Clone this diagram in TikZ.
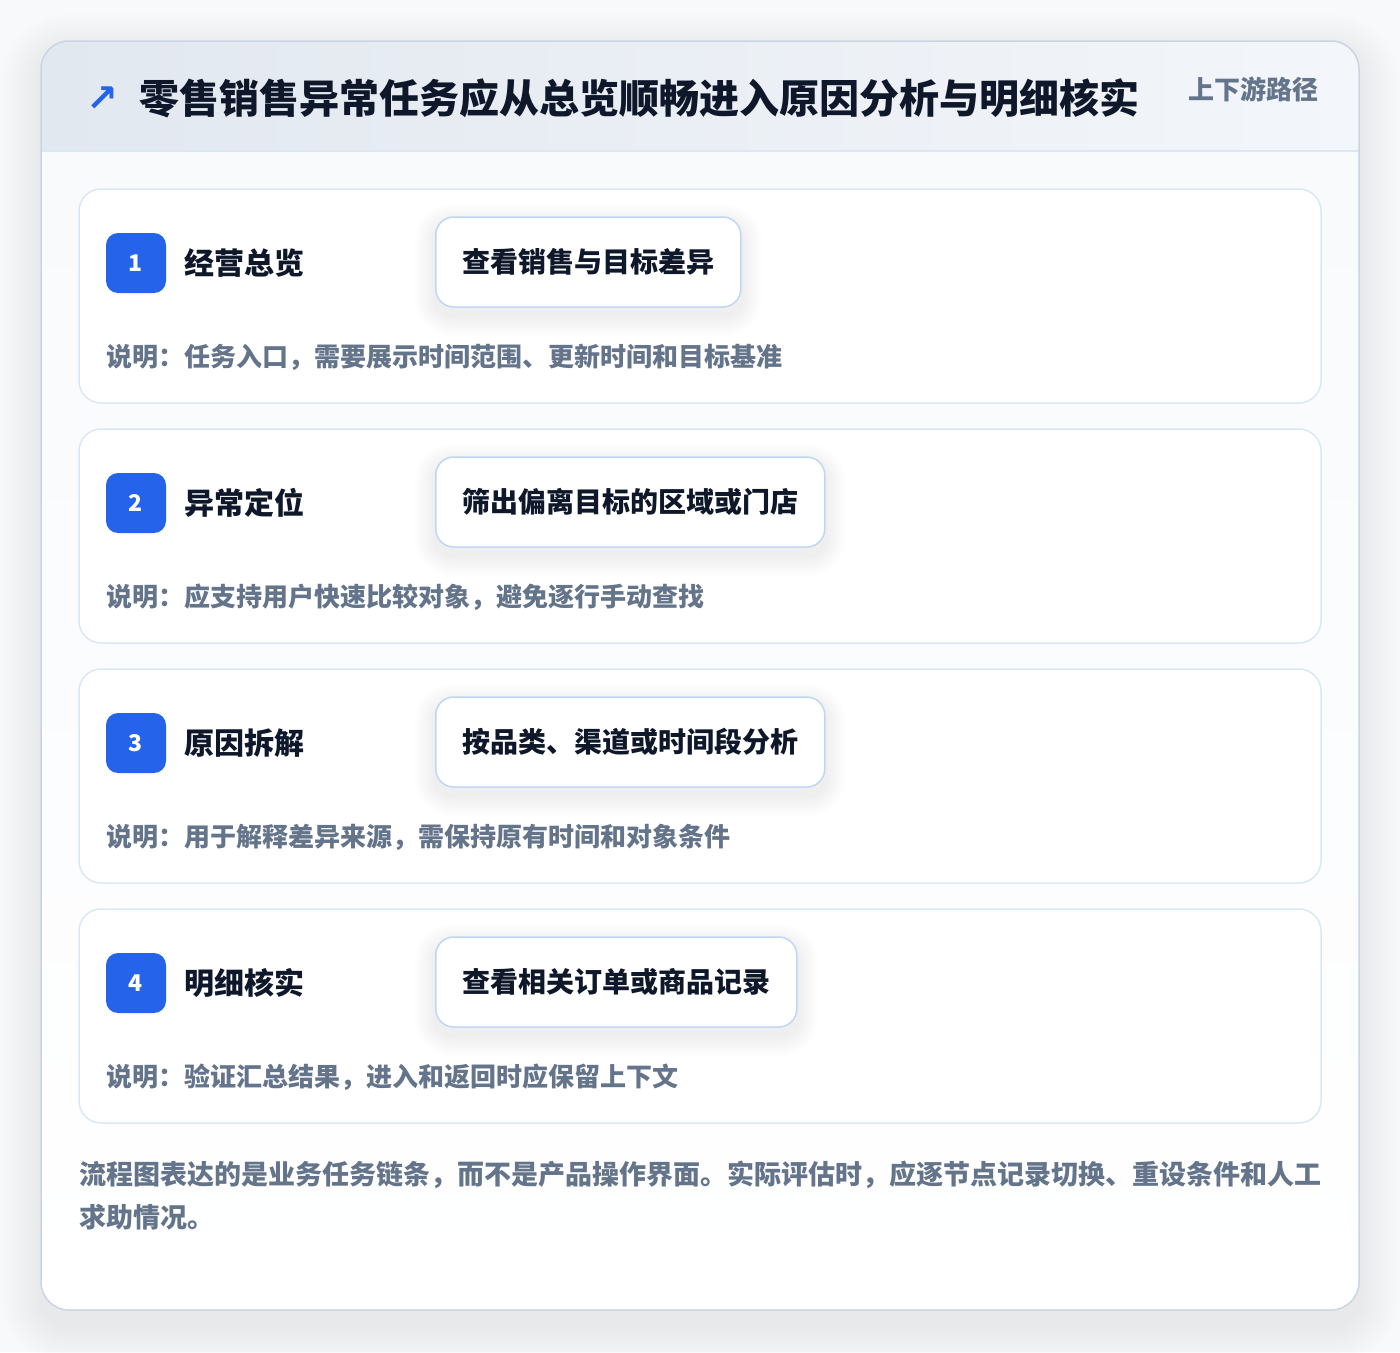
\documentclass[tikz,border=0pt]{standalone}
\usepackage{fontspec}
\setmainfont{Noto Sans CJK SC}
\newfontfamily\symfont{DejaVu Sans}
\usetikzlibrary{calc}
\definecolor{pagebg}{HTML}{F8F9FB}
\definecolor{cardborder}{HTML}{CBD5E1}
\definecolor{headl}{HTML}{E2E8F0}
\definecolor{headr}{HTML}{F3F6FA}
\definecolor{headline}{HTML}{DCE7F5}
\definecolor{bodytop}{HTML}{F8FAFC}
\definecolor{stepborder}{HTML}{DBE7F7}
\definecolor{actborder}{HTML}{BFD7F5}
\definecolor{ink}{HTML}{0F172A}
\definecolor{muted}{HTML}{64748B}
\definecolor{accent}{HTML}{2563EB}
\tikzset{
  stepcard/.style={draw=stepborder, line width=1.5pt, fill=white, rounded corners=22pt, minimum width=1242pt, minimum height=214pt, inner sep=0pt},
  badge/.style={fill=accent, rounded corners=12pt, minimum width=60pt, minimum height=60pt, inner sep=0pt, text=white, font=\bfseries\fontsize{23}{26}\selectfont},
  steptitle/.style={anchor=west, inner sep=0pt, text=ink, font=\bfseries\fontsize{30}{36}\selectfont},
  actbox/.style={anchor=west, draw=actborder, line width=1.5pt, fill=white, rounded corners=18pt, minimum height=90pt, inner xsep=26.5pt, inner ysep=0pt, text=ink, font=\bfseries\fontsize{28}{34}\selectfont},
  desc/.style={anchor=west, inner sep=0pt, text=muted, font=\bfseries\fontsize{26}{32}\selectfont},
}
\begin{document}
\begin{tikzpicture}[x=1pt,y=-1pt]
\useasboundingbox (0,0) rectangle (1400,1352);
\fill[pagebg] (0,0) rectangle (1400,1352);
% outer card shadow
\foreach \i in {1,...,16}{
  \fill[black, opacity=0.005, rounded corners={28+2.5*\i}] ({41-2.5*\i},{53-2.5*\i}) rectangle ({1359+2.5*\i},{1326+2.5*\i});
}
% card
\path[fill=white, rounded corners=28pt] (41,41) rectangle (1359,1310);
\begin{scope}
  \clip[rounded corners=28pt] (41,41) rectangle (1359,1310);
  \shade[top color=bodytop, bottom color=white] (41,151) rectangle (1359,1310);
  \shade[left color=headl, right color=headr] (41,41) rectangle (1359,151);
\end{scope}
\draw[headline, line width=1.5pt] (41,151) -- (1359,151);
\draw[cardborder, line width=1.5pt, rounded corners=28pt] (41,41) rectangle (1359,1310);
% header
\node[anchor=center, inner sep=0pt, text=accent, font=\symfont\bfseries\fontsize{38}{42}\selectfont] (arrow) at (102,99) {↗};
\node[anchor=west, inner sep=0pt, text=ink, font=\bfseries\fontsize{40}{48}\selectfont] (title) at (139,98) {零售销售异常任务应从总览顺畅进入原因分析与明细核实};
\node[anchor=west, inner sep=0pt, text=muted, font=\bfseries\fontsize{26}{32}\selectfont] (tag) at (1188,89) {上下游路径};
% steps
\foreach \k/\ttl/\act/\dsc in {
  1/经营总览/查看销售与目标差异/说明：任务入口，需要展示时间范围、更新时间和目标基准,
  2/异常定位/筛出偏离目标的区域或门店/说明：应支持用户快速比较对象，避免逐行手动查找,
  3/原因拆解/按品类、渠道或时间段分析/说明：用于解释差异来源，需保持原有时间和对象条件,
  4/明细核实/查看相关订单或商品记录/说明：验证汇总结果，进入和返回时应保留上下文}{
  \pgfmathsetmacro{\yy}{240*(\k-1)}
  \node[stepcard] (card\k) at (700,{296+\yy}) {};
  \node[badge] (badge\k) at (136,{263+\yy}) {\k};
  \node[steptitle] (title\k) at (184,{263+\yy}) {\ttl};
  \node[actbox, opacity=0] (actghost\k) at (435,{262+\yy}) {\act};
  \foreach \j in {1,...,8}{
    \fill[black, opacity=0.006, rounded corners={18+2.5*\j}] ($(actghost\k.north west)+({-2.5*\j},{8-2.5*\j})$) rectangle ($(actghost\k.south east)+({2.5*\j},{8+2.5*\j})$);
  }
  \node[actbox] (act\k) at (435,{262+\yy}) {\act};
  \node[desc] (desc\k) at (106,{357+\yy}) {\dsc};
}
% footer
\node[anchor=west, inner sep=0pt, text=muted, font=\bfseries\fontsize{27}{33}\selectfont] (foot1) at (79,1175) {流程图表达的是业务任务链条，而不是产品操作界面。实际评估时，应逐节点记录切换、重设条件和人工};
\node[anchor=west, inner sep=0pt, text=muted, font=\bfseries\fontsize{27}{33}\selectfont] (foot2) at (79,1217) {求助情况。};
\end{tikzpicture}
\end{document}
